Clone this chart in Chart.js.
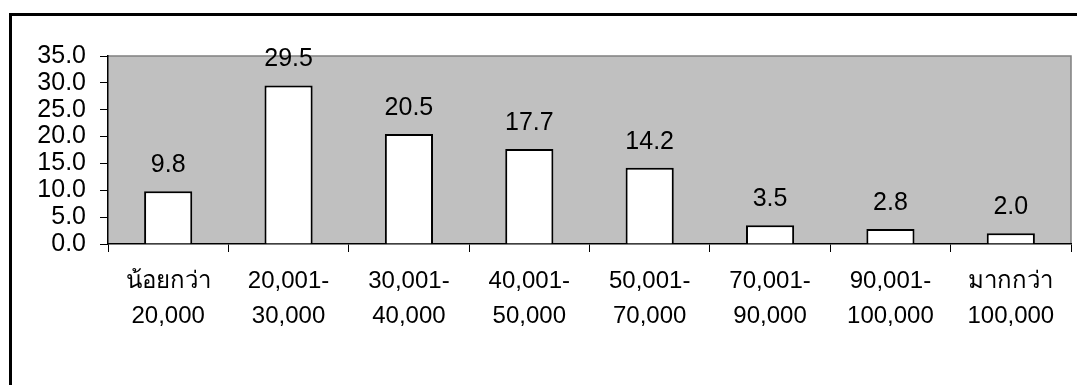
<!DOCTYPE html>
<html>
<head>
<meta charset="utf-8">
<script src="https://cdn.jsdelivr.net/npm/chart.js@4"></script>
<style>
  html, body { margin: 0; padding: 0; background: #fff; }
  #wrap { width: 1077px; height: 385px; position: relative; }
</style>
</head>
<body>
<div id="wrap"><canvas id="chart"></canvas></div>
<script>
// income bands (two-line labels) and share of respondents (%)
const incomeBands = [
  ["น้อยกว่า", "20,000"],
  ["20,001-", "30,000"],
  ["30,001-", "40,000"],
  ["40,001-", "50,000"],
  ["50,001-", "70,000"],
  ["70,001-", "90,000"],
  ["90,001-", "100,000"],
  ["มากกว่า", "100,000"],
];
const sharePct = [9.8, 29.5, 20.5, 17.7, 14.2, 3.5, 2.8, 2.0];
const yMin = 0;
const yMax = 35;
const yStep = 5;

const FONT = "'Liberation Sans', Arial, 'Noto Sans', sans-serif";

// grey plot background + outer frame
const frame = {
  id: "frame",
  beforeDraw(chart) {
    const { ctx, chartArea: a } = chart;
    ctx.save();
    ctx.fillStyle = "#fff";
    ctx.fillRect(0, 0, chart.width, chart.height);
    ctx.strokeStyle = "#000";
    ctx.lineWidth = 3;
    ctx.beginPath();
    ctx.moveTo(10.5, chart.height + 5);
    ctx.lineTo(10.5, 14.5);
    ctx.lineTo(chart.width + 5, 14.5);
    ctx.stroke();
    ctx.fillStyle = "#c0c0c0";
    ctx.fillRect(a.left, a.top, a.right - a.left, a.bottom - a.top);
    ctx.strokeStyle = "#808080";
    ctx.lineWidth = 1.5;
    ctx.beginPath();
    ctx.moveTo(a.left, a.top);
    ctx.lineTo(a.right, a.top);
    ctx.lineTo(a.right, a.bottom);
    ctx.stroke();
    ctx.restore();
  },
};

// value above each bar
const valueLabels = {
  id: "valueLabels",
  afterDatasetsDraw(chart) {
    const { ctx } = chart;
    const meta = chart.getDatasetMeta(0);
    ctx.save();
    ctx.font = "25px " + FONT;
    ctx.fillStyle = "#000";
    ctx.textAlign = "center";
    ctx.textBaseline = "middle";
    meta.data.forEach((bar, i) => {
      ctx.fillText(sharePct[i].toFixed(1), bar.x, bar.y - 26);
    });
    ctx.restore();
  },
};

new Chart(document.getElementById("chart"), {
  type: "bar",
  data: {
    labels: incomeBands,
    datasets: [
      {
        data: sharePct,
        backgroundColor: "#fff",
        borderColor: "#000",
        borderWidth: 2,
        barPercentage: 0.4,
        categoryPercentage: 1,
      },
    ],
  },
  options: {
    responsive: true,
    maintainAspectRatio: false,
    animation: false,
    layout: { padding: { left: 0, right: 6, top: 56, bottom: 0 } },
    plugins: {
      legend: { display: false },
      tooltip: { enabled: false },
    },
    scales: {
      x: {
        afterFit: (s) => { s.height = 141; },
        border: { color: "#000", width: 1.5 },
        grid: { drawOnChartArea: false, color: "#000", tickLength: 8, offset: true },
        ticks: {
          color: "#000",
          padding: 12,
          maxRotation: 0,
          autoSkip: false,
          font: { family: FONT, size: 24, lineHeight: 1.45 },
        },
      },
      y: {
        min: yMin,
        max: yMax,
        afterFit: (s) => { s.width = 108; },
        border: { color: "#000", width: 1.5 },
        grid: { drawOnChartArea: false, color: "#000", tickLength: 8 },
        ticks: {
          stepSize: yStep,
          autoSkip: false,
          color: "#000",
          padding: 14,
          font: { family: FONT, size: 25 },
          callback: (v) => v.toFixed(1),
        },
      },
    },
  },
  plugins: [frame, valueLabels],
});
</script>
</body>
</html>
